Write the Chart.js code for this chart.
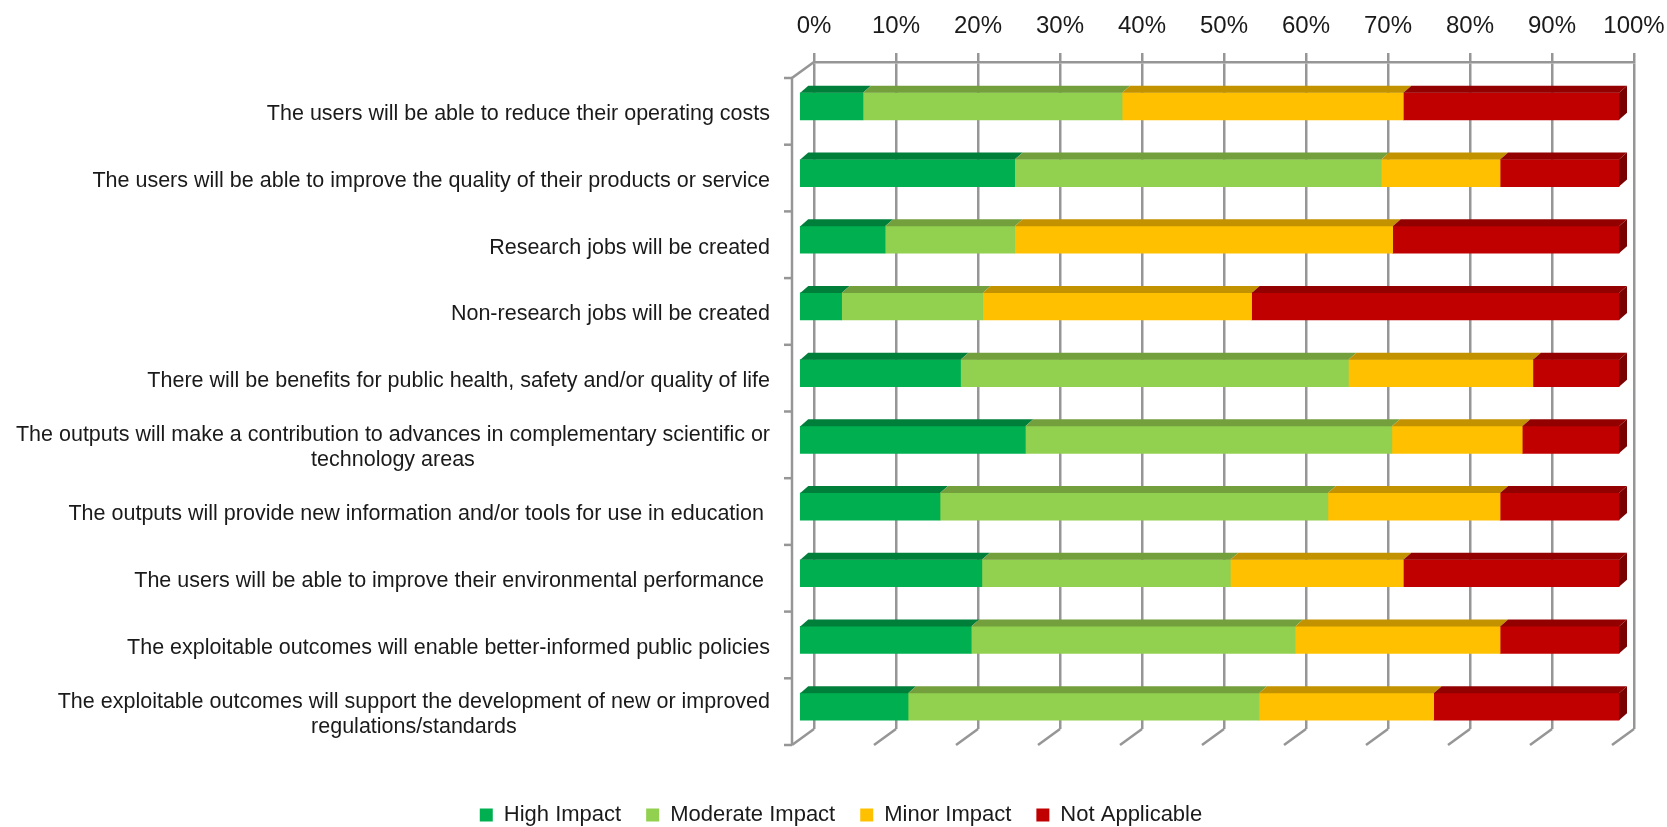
<!DOCTYPE html>
<html>
<head>
<meta charset="utf-8">
<title>Expected impact of the outputs</title>
<script src="https://cdn.jsdelivr.net/npm/chart.js@4.4.1/dist/chart.umd.min.js"></script>
<style>
    html, body { margin: 0; padding: 0; background: #fff; }
    #wrap { width: 1667px; height: 827px; }
</style>
</head>
<body>
<div id="wrap"><canvas id="impactChart"></canvas></div>
<script>
// Data (share of answers, %)
const categories = [
    'The users will be able to reduce their operating costs',
    'The users will be able to improve the quality of their products or service',
    'Research jobs will be created',
    'Non-research jobs will be created',
    'There will be benefits for public health, safety and/or quality of life',
    ['The outputs will make a contribution to advances in complementary scientific or', 'technology areas'],
    'The outputs will provide new information and/or tools for use in education ',
    'The users will be able to improve their environmental performance ',
    'The exploitable outcomes will enable better-informed public policies',
    ['The exploitable outcomes will support the development of new or improved', 'regulations/standards']
];

const highImpact     = [7.8, 26.3, 10.5, 5.2, 19.7, 27.6, 17.2, 22.3, 21.0, 13.3];
const moderateImpact = [31.6, 44.7, 15.8, 17.2, 47.3, 44.7, 47.3, 30.3, 39.5, 42.8];
const minorImpact    = [34.3, 14.5, 46.1, 32.8, 22.5, 15.9, 21.0, 21.1, 25.0, 21.3];
const notApplicable  = [26.3, 14.5, 27.6, 44.8, 10.5, 11.8, 14.5, 26.3, 14.5, 22.6];

const seriesNames = ['High Impact', 'Moderate Impact', 'Minor Impact', 'Not Applicable'];
const seriesValues = [highImpact, moderateImpact, minorImpact, notApplicable];

const axisMin = 0;
const axisMax = 100;
const axisStep = 10;

// Colours
const frontColors = ['#00B050', '#92D050', '#FFC000', '#C00000'];
const topColors   = ['#007F3A', '#739F3D', '#C29200', '#920000'];
const capColor    = '#7A0000';
const gridColor   = '#969696';
const textColor   = '#1A1A1A';
const FONT = "'Liberation Sans', Arial, sans-serif";

// Fake 3D geometry
const BAR_SHIFT = { dx: -15, dy: 11 };   // bars stand in front of the back wall
const DEPTH = { dx: 8, dy: -7 };         // top / end faces of a bar
const FLOOR = { dx: -22, dy: 16 };       // front edge of the box
const LABEL_GAP = 22;
const LABEL_SHIFT = 3;
const LABEL_LINE = 25;

function drawBarFaces(chart) {
    const ctx = chart.ctx;
    const last = chart.data.datasets.length - 1;
    chart.data.datasets.forEach((ds, di) => {
        const meta = chart.getDatasetMeta(di);
        meta.data.forEach(bar => {
            const { x, y, base, height } = bar.getProps(['x', 'y', 'base', 'height'], true);
            const top = y - height / 2;
            const bottom = y + height / 2;
            ctx.fillStyle = topColors[di];
            ctx.beginPath();
            ctx.moveTo(base, top);
            ctx.lineTo(base + DEPTH.dx, top + DEPTH.dy);
            ctx.lineTo(x + DEPTH.dx, top + DEPTH.dy);
            ctx.lineTo(x, top);
            ctx.closePath();
            ctx.fill();
            if (di === last) {
                ctx.fillStyle = capColor;
                ctx.beginPath();
                ctx.moveTo(x, top);
                ctx.lineTo(x + DEPTH.dx, top + DEPTH.dy);
                ctx.lineTo(x + DEPTH.dx, bottom + DEPTH.dy);
                ctx.lineTo(x, bottom);
                ctx.closePath();
                ctx.fill();
            }
        });
    });
}

function drawFrame(chart) {
    const ctx = chart.ctx;
    const { left, top, bottom } = chart.chartArea;
    const xs = chart.scales.x;
    const ys = chart.scales.y;
    const frontX = left + FLOOR.dx;
    const half = (ys.getPixelForValue(1) - ys.getPixelForValue(0)) / 2;

    ctx.save();
    ctx.strokeStyle = gridColor;
    ctx.lineWidth = 2.5;
    ctx.beginPath();
    ctx.moveTo(left, top);
    ctx.lineTo(frontX, top + FLOOR.dy);
    ctx.lineTo(frontX, bottom + FLOOR.dy);
    ctx.stroke();

    // category boundary ticks on the front edge
    for (let i = 0; i <= categories.length; i++) {
        const yy = ys.getPixelForValue(i) - half + FLOOR.dy;
        ctx.beginPath();
        ctx.moveTo(frontX - 8, yy);
        ctx.lineTo(frontX, yy);
        ctx.stroke();
    }

    // floor lines running forward from each gridline
    xs.ticks.forEach(t => {
        const px = xs.getPixelForValue(t.value);
        ctx.beginPath();
        ctx.moveTo(px, bottom);
        ctx.lineTo(px + FLOOR.dx, bottom + FLOOR.dy);
        ctx.stroke();
    });
    ctx.restore();
}

function drawCategoryLabels(chart) {
    const ctx = chart.ctx;
    const ys = chart.scales.y;
    const right = chart.chartArea.left + FLOOR.dx - LABEL_GAP;

    ctx.save();
    ctx.font = `21.5px ${FONT}`;
    ctx.fillStyle = textColor;
    ctx.textAlign = 'center';
    ctx.textBaseline = 'middle';
    categories.forEach((label, i) => {
        const lines = Array.isArray(label) ? label : [label];
        const blockWidth = Math.max(...lines.map(l => ctx.measureText(l).width));
        const cx = right - blockWidth / 2;
        const cy = ys.getPixelForValue(i) + FLOOR.dy + LABEL_SHIFT;
        lines.forEach((line, j) => {
            ctx.fillText(line, cx, cy + (j - (lines.length - 1) / 2) * LABEL_LINE);
        });
    });
    ctx.restore();
}

const box3d = {
    id: 'box3d',
    beforeDatasetsDraw(chart) {
        chart.ctx.save();
        chart.ctx.translate(BAR_SHIFT.dx, BAR_SHIFT.dy);
    },
    afterDatasetsDraw(chart) {
        drawBarFaces(chart);
        chart.ctx.restore();
        drawFrame(chart);
        drawCategoryLabels(chart);
    }
};

const datasets = seriesNames.map((name, i) => ({
    label: name,
    data: seriesValues[i],
    backgroundColor: frontColors[i],
    borderWidth: 0,
    barThickness: 27,
    clip: false
}));

new Chart(document.getElementById('impactChart'), {
    type: 'bar',
    data: { labels: categories, datasets },
    plugins: [box3d],
    options: {
        indexAxis: 'y',
        responsive: true,
        maintainAspectRatio: false,
        animation: false,
        layout: { padding: { top: 0, right: 33, bottom: -9, left: 48 } },
        scales: {
            x: {
                position: 'top',
                stacked: true,
                min: axisMin,
                max: axisMax,
                afterFit: axis => {
                    axis.height = 62;
                    axis.paddingLeft = 0;
                    axis.paddingRight = 0;
                },
                ticks: {
                    stepSize: axisStep,
                    padding: 12,
                    color: textColor,
                    font: { size: 24, family: FONT },
                    callback: v => v + '%'
                },
                grid: { color: gridColor, lineWidth: 2.5, drawTicks: true, tickLength: 9, tickColor: gridColor, tickWidth: 2.5 },
                border: { display: true, color: gridColor, width: 2.5 }
            },
            y: {
                stacked: true,
                afterFit: axis => { axis.width = 766; },
                ticks: { display: false },
                grid: { display: false, drawTicks: false },
                border: { display: false }
            }
        },
        plugins: {
            tooltip: { enabled: false },
            legend: {
                position: 'bottom',
                title: { display: true, text: '', padding: { top: 38, bottom: 0 }, font: { size: 10 } },
                labels: {
                    boxWidth: 13,
                    boxHeight: 13,
                    padding: 25,
                    color: textColor,
                    font: { size: 22, family: FONT }
                }
            }
        }
    }
});
</script>
</body>
</html>
